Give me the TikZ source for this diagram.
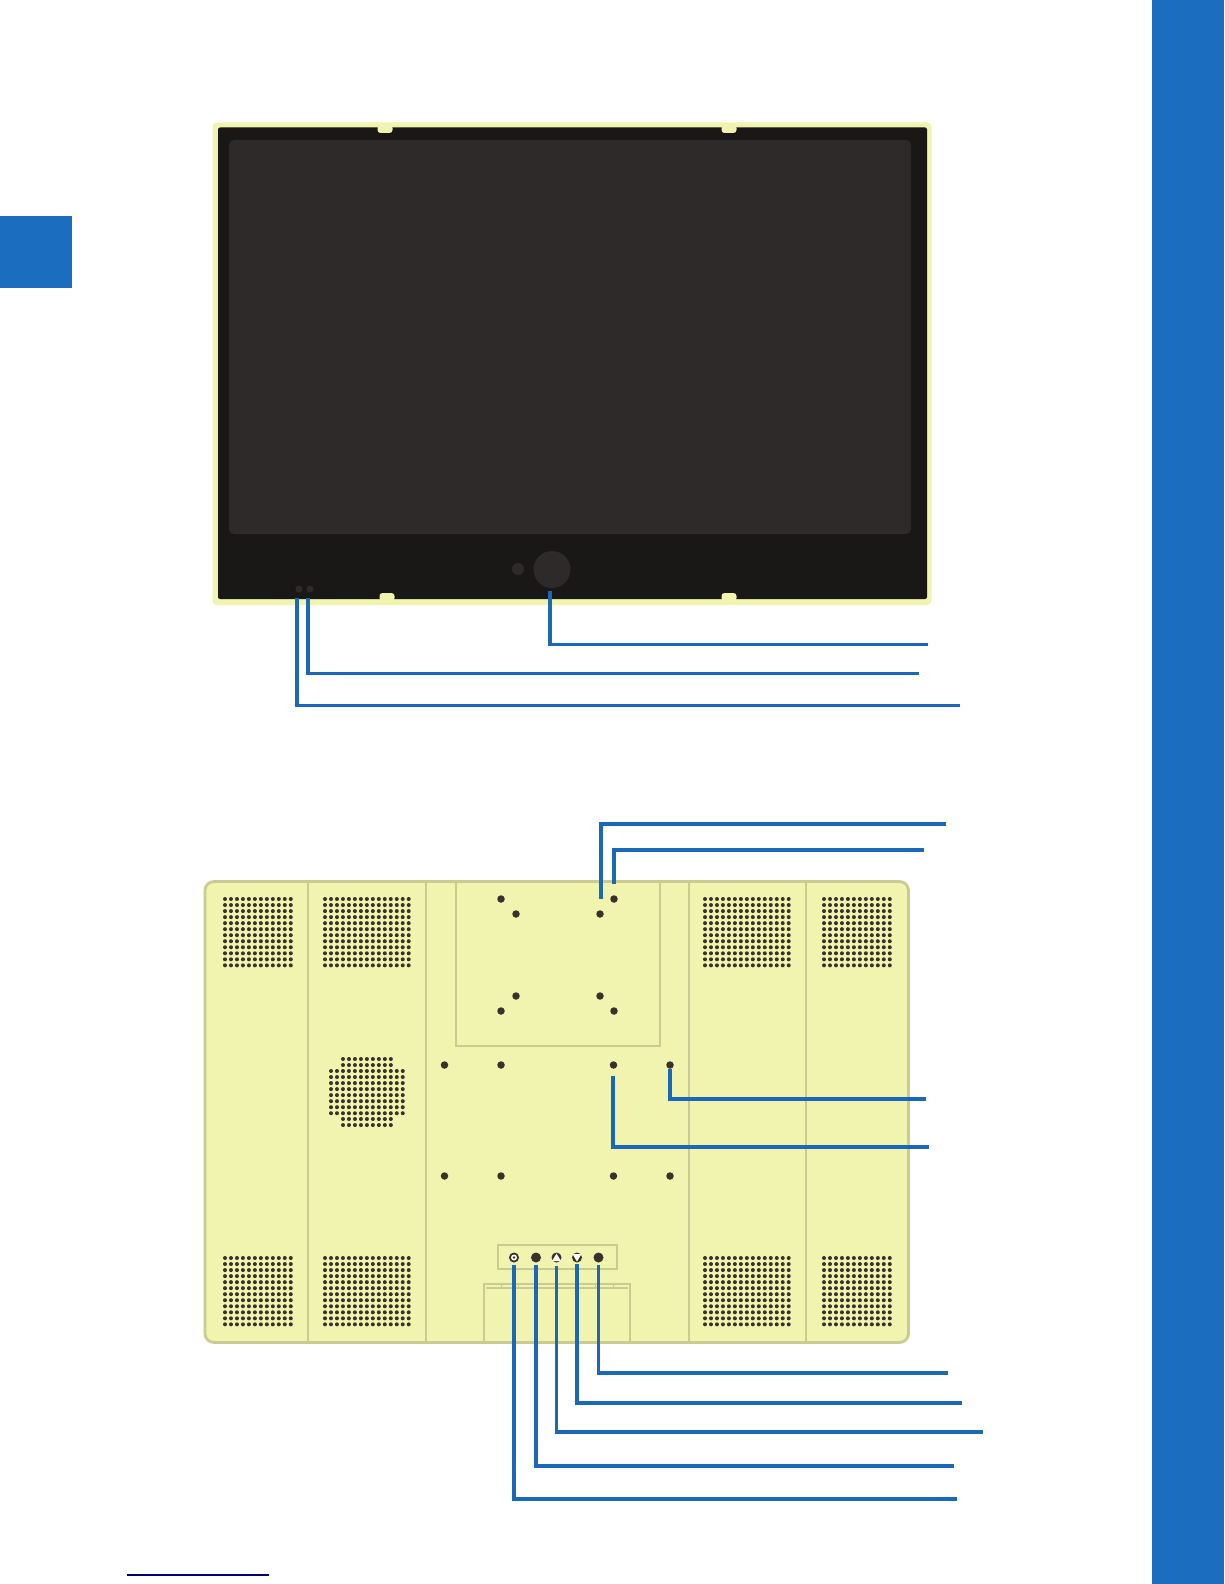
\documentclass[tikz,border=0pt]{standalone}
\usepackage{tikz}
\usetikzlibrary{positioning}
\definecolor{barblue}{HTML}{1A6DBF}
\definecolor{leadblue}{HTML}{1B68B8}
\definecolor{shell}{HTML}{F0F4AE}
\definecolor{seam}{HTML}{C9CC8E}
\definecolor{bezel}{HTML}{1A1817}
\definecolor{glass}{HTML}{2F2A2A}
\definecolor{pit}{HTML}{37322C}
\tikzset
{
	holenode/.style = {circle, fill=pit, inner sep=0pt, minimum size=7.5pt},
	keynode/.style = {circle, fill=pit, inner sep=0pt, minimum size=10pt},
	lensnode/.style = {circle, fill=glass, inner sep=0pt},
	seamline/.style = {draw=seam, line width=2.1pt},
	thinseam/.style = {draw=seam, line width=1.6pt},
	lead/.style = {draw=leadblue, line width=3.8pt, line join=miter}
}
% one block of speaker dots: left, top, columns, rows
\newcommand{\dotgrid}[4]{
	\foreach \i in {1,...,#3}{
		\foreach \j in {1,...,#4}{
			\fill[pit] ({#1+(\i-1)*5.98},{#2+(\j-1)*6.03}) circle (2);
		}
	}
}
\begin{document}
\begin{tikzpicture}[x=1pt,y=-1pt]
	\useasboundingbox (0,0) rectangle (1224,1584);
	% page marks
	\fill[barblue] (1152,0) rectangle (1224,1584);
	\fill[barblue] (0,216) rectangle (72,288);
	\draw[draw=blue!45!black, line width=1.3pt] (127,1575) -- (269,1575);

	% front view
	\fill[shell, rounded corners=4pt] (212.5,122.5) rectangle (931.5,605);
	\fill[bezel, rounded corners=2pt] (218,127.5) rectangle (927,599);
	\fill[glass, rounded corners=5pt] (229,140) rectangle (911,534);
	\foreach \x in {385,729}{
		\fill[shell, rounded corners=3pt] ({\x-7.5},125) rectangle ({\x+7.5},133);
	}
	\foreach \x in {387,729}{
		\fill[shell, rounded corners=3pt] ({\x-7.5},593) rectangle ({\x+7.5},601);
	}
	\node[lensnode, minimum size=37pt] (camera) at (552,569.5) {};
	\node[lensnode, minimum size=12pt] (sensor) at (518,569) {};
	\node[lensnode, minimum size=7pt] (ledb) at (299,589) {};
	\node[lensnode, minimum size=7pt] (leda) at (310,589) {};

	% rear view
	\filldraw[fill=shell, seamline, line width=2.8pt, rounded corners=9pt] (205,881.5) rectangle (908.5,1342.5);
	\foreach \x in {308,426,689,806}{
		\draw[seamline] (\x,881.5) -- (\x,1342.5);
	}
	\draw[thinseam] (456,881.5) rectangle (660,1046);
	\dotgrid{225}{899}{12}{12}
	\dotgrid{325}{899}{15}{12}
	\dotgrid{705}{899}{15}{12}
	\dotgrid{824}{899}{12}{12}
	\dotgrid{225}{1258}{12}{12}
	\dotgrid{325}{1258}{15}{12}
	\dotgrid{705}{1258}{15}{12}
	\dotgrid{824}{1258}{12}{12}
	% round speaker in the middle
	\dotgrid{343}{1059}{9}{2}
	\dotgrid{331}{1071}{13}{8}
	\dotgrid{343}{1119}{9}{2}
	% mounting holes
	\foreach \name/\x/\y in {ma/501/899,mb/516/914,mc/600/914,md/614/899,me/516/996,mf/501/1011,mg/600/996,mh/614/1011,
		na/444.5/1065,nb/501/1065,nc/613.5/1065,nd/670/1065,ne/444.5/1176,nf/501/1176,ng/613.5/1176,nh/670/1176}{
		\node[holenode] (\name) at (\x,\y) {};
	}
	% keys
	\draw[thinseam] (498,1245) rectangle (617,1269);
	\draw[thinseam] (484,1343) -- (484,1284) -- (630,1284) -- (630,1343);
	\draw[thinseam, line width=1.2pt] (486,1288) -- (628,1288);
	\foreach \x in {501,518,595,613}{
		\draw[thinseam, line width=0.8pt] (\x,1284) -- (\x,1288);
	}
	\node[keynode] (power) at (514,1257.5) {};
	\node[keynode] (menu) at (536,1257.5) {};
	\node[keynode] (upkey) at (556.5,1257.5) {};
	\node[keynode] (downkey) at (577,1257.5) {};
	\node[keynode] (source) at (598.5,1257.5) {};
	\fill[white] (power) circle (3);
	\fill[pit] (power) circle (1.4);
	\fill[white] (556.5,1253.5) -- (561,1261) -- (552,1261) -- cycle;
	\fill[white] (577,1261.5) -- (581.5,1254) -- (572.5,1254) -- cycle;

	% free ends of the leads
	\coordinate (tcamera) at (927.5,644.5);
	\coordinate (tleda) at (919,673.5);
	\coordinate (tledb) at (960,705.5);
	\coordinate (tmounta) at (946,824);
	\coordinate (tmountb) at (924,850);
	\coordinate (tmountc) at (926,1099);
	\coordinate (tmountd) at (928.5,1147);
	\coordinate (tsource) at (948,1373);
	\coordinate (tdown) at (962,1403);
	\coordinate (tup) at (983,1432);
	\coordinate (tmenu) at (954,1466);
	\coordinate (tpower) at (957,1499);

	\draw[lead] (camera.south) ++(-2,3) -- (550,644.5) -- (tcamera);
	\draw[lead] (leda.south) ++(-2,5) -- (308,673.5) -- (tleda);
	\draw[lead] (ledb.south) ++(-2,5) -- (297,705.5) -- (tledb);
	\draw[lead] (mc.north) ++(1,-11) -- (601,824) -- (tmounta);
	\draw[lead] (md.north) ++(0,-11) -- (tmountb -| md) -- (tmountb);
	\draw[lead] (nd.south) -- (tmountc -| nd) -- (tmountc);
	\draw[lead] (nc.south) ++(-0.5,7) -- (613,1147) -- (tmountd);
	\draw[lead] (source.south) ++(0,2) -- (tsource -| source) -- (tsource);
	\draw[lead] (downkey.south) ++(0,1) -- (tdown -| downkey) -- (tdown);
	\draw[lead] (upkey.south) ++(0,3) -- (tup -| upkey) -- (tup);
	\draw[lead] (menu.south) ++(0,2) -- (tmenu -| menu) -- (tmenu);
	\draw[lead] (power.south) ++(0,2) -- (tpower -| power) -- (tpower);
\end{tikzpicture}
\end{document}
